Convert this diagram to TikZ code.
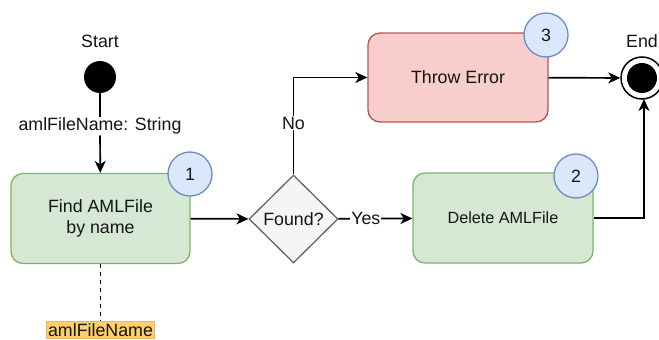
\documentclass[tikz,border=0pt]{standalone}
\usepackage{fontspec}
\setmainfont{Liberation Sans}
\usetikzlibrary{arrows.meta,shapes.geometric}
\definecolor{gfill}{HTML}{D5E8D4}
\definecolor{gline}{HTML}{82B366}
\definecolor{rfill}{HTML}{F8CECC}
\definecolor{rline}{HTML}{B85450}
\definecolor{bfill}{HTML}{DAE8FC}
\definecolor{bline}{HTML}{6C8EBF}
\definecolor{dfill}{HTML}{F5F5F5}
\definecolor{dline}{HTML}{666666}
\definecolor{ofill}{HTML}{FFCF6E}
\definecolor{oline}{HTML}{F2B35E}
\definecolor{txt}{HTML}{141414}
\tikzset{
  txtf/.style={font=\fontsize{17.8}{21}\selectfont, text=txt},
  actbox/.style={txtf, rectangle, rounded corners=12pt, line width=1.3pt, minimum width=179pt, minimum height=90pt, align=center, inner sep=0pt},
  greenbox/.style={actbox, fill=gfill, draw=gline},
  redbox/.style={actbox, fill=rfill, draw=rline},
  numcirc/.style={txtf, circle, fill=bfill, draw=bline, line width=1.3pt, minimum size=44pt, inner sep=0pt},
  decis/.style={txtf, diamond, fill=dfill, draw=dline, line width=1.3pt, minimum width=89pt, minimum height=88pt, inner sep=0pt},
  flow/.style={line width=1.7pt, draw=black, -{Stealth[length=12pt,width=11pt,inset=3.5pt]}},
  plain/.style={line width=1.7pt, draw=black},
  lbl/.style={txtf, fill=white, inner sep=1pt},
}
\begin{document}
\begin{tikzpicture}[x=1pt,y=-1pt]
\clip (0,0) rectangle (659,340);
\useasboundingbox (0,0) rectangle (659,340);

% start
\node[txtf] (startlbl) at (100,41) {Start};
\node[circle, fill=black, minimum size=32pt, inner sep=0pt] (start) at (100,77) {};
\node[lbl] (param) at (100,126) {amlFileName: String};

% activities
\node[greenbox] (find) at (100.5,218.5) {Find AMLFile\\by name};
\node[numcirc] (c1) at (190,174) {1};

\node[decis] (found) at (293.5,219) {Found?};

\node[greenbox, font=\fontsize{16.2}{19}\selectfont, minimum width=180pt] (delete) at (503,218) {Delete AMLFile};
\node[numcirc] (c2) at (576,176) {2};

\node[redbox, minimum width=180pt, minimum height=89pt] (throw) at (458,77.5) {Throw Error};
\node[numcirc] (c3) at (546,35) {3};

% end
\node[txtf] (endlbl) at (642,41) {End};
\node[circle, draw=black, fill=white, line width=1.5pt, minimum size=42pt, inner sep=0pt] (end) at (642,78) {};
\node[circle, fill=black, minimum size=30pt, inner sep=0pt] (endin) at (642,78) {};

% object
\node[txtf, fill=ofill, draw=oline, line width=1pt, inner xsep=1.5pt, inner ysep=2pt] (obj) at (100.5,330) {amlFileName};

% connectors
\draw[plain] (start) -- (param);
\draw[flow] (param) -- (find);
\draw[plain, dashed, dash pattern=on 4pt off 4pt] (find) -- (obj);
\draw[flow] (find) -- (found);
\draw[flow] (found) -- node[lbl, pos=0.37] {Yes} (delete);
\draw[flow] (found.north) -- node[lbl, pos=0.53] {No} (293.5,77.5) -- (throw.west);
\draw[flow] (throw) -- (end);
\draw[flow] (delete.east) -- (644,218) -- (644,99);
\end{tikzpicture}
\end{document}
